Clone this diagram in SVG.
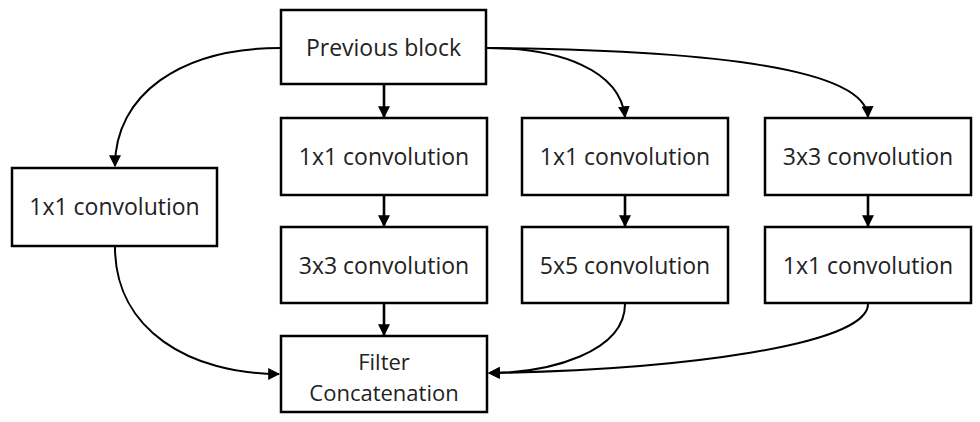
<svg xmlns="http://www.w3.org/2000/svg" width="980" height="422" viewBox="0 0 980 422">
<defs>
<style>
.box{fill:#fff;stroke:#000;stroke-width:2.5}
.lbl{font-family:"Open Sans","Liberation Sans",sans-serif;font-size:23px;fill:#222;text-anchor:middle}
.lbl2{font-size:22px}
.edge{fill:none;stroke:#000;stroke-width:2}
.vert{stroke-width:2.6}
</style>
<marker id="ah" viewBox="0 0 10 10" refX="9" refY="5" markerWidth="12" markerHeight="12" markerUnits="userSpaceOnUse" orient="auto">
<path d="M0,0 L10,5 L0,10 Z" fill="#000"/>
</marker>
</defs>
<rect width="980" height="422" fill="#fff"/>
<g id="connectors">
<path class="edge vert" marker-end="url(#ah)" d="M384,85 L384,117"/>
<path class="edge vert" marker-end="url(#ah)" d="M384,196 L384,226"/>
<path class="edge vert" marker-end="url(#ah)" d="M384,304 L384,335"/>
<path class="edge vert" marker-end="url(#ah)" d="M625,196 L625,226"/>
<path class="edge vert" marker-end="url(#ah)" d="M868,196 L868,226"/>
<path class="edge" marker-end="url(#ah)" d="M280,48 C180,48 115,95 115,166"/>
<path class="edge" marker-end="url(#ah)" d="M487,48 C560,48 620,70 625,117"/>
<path class="edge" marker-end="url(#ah)" d="M487,48 C720,50 866,70 868,117"/>
<path class="edge" marker-end="url(#ah)" d="M115,247 C115,330 190,374 279,374"/>
<path class="edge" marker-end="url(#ah)" d="M625,304 C625,352 550,373 489,373"/>
<path class="edge" marker-end="url(#ah)" d="M868,304 C868,345 680,370 489,373"/>
</g>
<g id="prev"><rect class="box" x="281" y="10" width="205" height="74"/><text class="lbl" x="383.5" y="56">Previous block</text></g>
<g id="left1x1"><rect class="box" x="12" y="168" width="205" height="78"/><text class="lbl" x="114.5" y="215">1x1 convolution</text></g>
<g id="c2a"><rect class="box" x="281" y="118" width="206" height="77"/><text class="lbl" x="384" y="165">1x1 convolution</text></g>
<g id="c2b"><rect class="box" x="281" y="227" width="206" height="76"/><text class="lbl" x="384" y="274">3x3 convolution</text></g>
<g id="c3a"><rect class="box" x="522" y="118" width="206" height="77"/><text class="lbl" x="625" y="165">1x1 convolution</text></g>
<g id="c3b"><rect class="box" x="522" y="227" width="206" height="76"/><text class="lbl" x="625" y="274">5x5 convolution</text></g>
<g id="c4a"><rect class="box" x="765" y="118" width="206" height="77"/><text class="lbl" x="868" y="165">3x3 convolution</text></g>
<g id="c4b"><rect class="box" x="765" y="227" width="206" height="76"/><text class="lbl" x="868" y="274">1x1 convolution</text></g>
<g id="concat"><rect class="box" x="281" y="336" width="206" height="76"/><text class="lbl lbl2" x="384" y="370">Filter</text><text class="lbl lbl2" x="384" y="401">Concatenation</text></g>
</svg>
